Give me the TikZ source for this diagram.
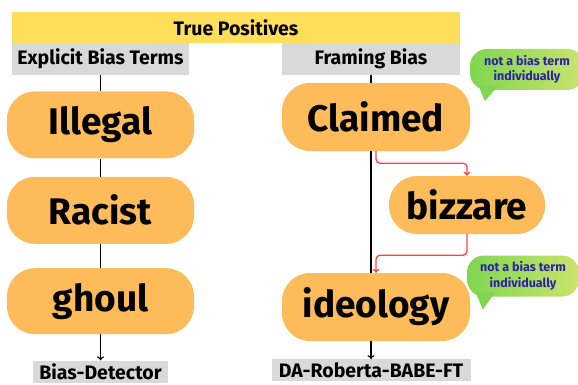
\documentclass[tikz,border=0pt]{standalone}
\usepackage{fontspec}
\setmainfont{Fira Sans}
\usepackage{tikz}
\usetikzlibrary{positioning, arrows.meta, calc}
\definecolor{bannery}{HTML}{FFDE59}
\definecolor{headgrey}{HTML}{D9D9D9}
\definecolor{termorange}{HTML}{FDBB5A}
\definecolor{noteleft}{HTML}{80D650}
\definecolor{noteright}{HTML}{CBE36C}
\definecolor{noteblue}{HTML}{2C22A8}
\definecolor{linkred}{HTML}{FF4245}
\tikzset{
  banner/.style={rectangle, minimum width=448pt, minimum height=31pt, align=center, fill=bannery, font=\fontsize{19.5}{21}\selectfont\bfseries},
  header/.style={rectangle, minimum width=177pt, minimum height=32pt, align=center, fill=headgrey, font=\fontsize{19.5}{21}\selectfont\bfseries},
  term/.style={rectangle, rounded corners=28pt, minimum width=187pt, minimum height=67pt, align=center, fill=termorange, font=\fontsize{37}{42}\selectfont\bfseries},
  note/.style={rectangle, rounded corners=17pt, minimum width=114pt, minimum height=41pt, align=center, left color=noteleft, right color=noteright, text=noteblue, font=\fontsize{12.5}{15.5}\selectfont\bfseries},
  arrow/.style={line width=1.2pt,->,>={To[length=4pt,width=7pt]}},
  redarrow/.style={line width=1.3pt,->,>={To[length=4pt,width=7pt]}, draw=linkred, rounded corners=4pt}
}
\begin{document}
\begin{tikzpicture}[x=1pt, y=-1pt]
        \useasboundingbox (0,0) rectangle (578,385);

        % Cabecera
        \node (truepos) [banner] at (236,27.5) {True Positives};
        \node (explicit) [header] at (100.5,59) {Explicit Bias Terms};
        \node (framing) [header, minimum width=178pt] at (371,59) {Framing Bias};

        % Columna izquierda - terminos explicitos
        \node (illegal) [term, below=16pt of explicit] {Illegal};
        \node (racist) [term, below=18pt of illegal] {Racist};
        \node (ghoul) [term, below=24pt of racist, minimum height=66pt] {ghoul};
        \node (detector) [header, minimum width=135pt, minimum height=22pt, inner ysep=2pt, below=26pt of ghoul] {Bias-Detector};

        \draw [line width=1.2pt] (explicit) -- (illegal);
        \draw [line width=1.2pt] (illegal) -- (racist);
        \draw [line width=1.2pt] (racist) -- (ghoul);
        \draw [arrow] (ghoul) -- (detector);

        % Columna derecha - sesgo de encuadre
        \node (claimed) [term, minimum width=188pt, minimum height=68pt] at (376,117) {Claimed};
        \node (bizzare) [term, minimum width=156pt, minimum height=58pt] at (467,205) {bizzare};
        \node (ideology) [term, minimum width=188pt, minimum height=68pt] at (376,307) {ideology};
        \node (roberta) [header, minimum width=199pt, minimum height=22pt, inner ysep=2pt, below=18pt of ideology.south -| framing.south, anchor=north] {DA-Roberta-BABE-FT};

        \draw [line width=1.2pt] (framing.south) -- (framing.south |- claimed.north);
        \draw [line width=1.2pt] (framing.south |- claimed.south) -- (framing.south |- ideology.north);
        \draw [arrow] (framing.south |- ideology.south) -- (roberta.north);

        % Enlaces rojos
        \draw [redarrow] (claimed.south) -- ++(0,12) -| (bizzare.north);
        \draw [redarrow] (bizzare.south) -- ++(0,21) -| (ideology.north);

        % Globos de nota
        \node (note1) [note] at (527,69.5) {not a bias term\\individually};
        \fill [noteleft] ([xshift=9pt,yshift=4pt]note1.south west) -- ([xshift=15pt,yshift=-11pt]note1.south west) -- ([xshift=28pt,yshift=4pt]note1.south west) -- cycle;
        \node (note2) [note, minimum width=112pt] at (523,276) {not a bias term\\individually};
        \fill [noteleft] ([xshift=9pt,yshift=4pt]note2.south west) -- ([xshift=16pt,yshift=-13pt]note2.south west) -- ([xshift=28pt,yshift=4pt]note2.south west) -- cycle;

\end{tikzpicture}
\end{document}
